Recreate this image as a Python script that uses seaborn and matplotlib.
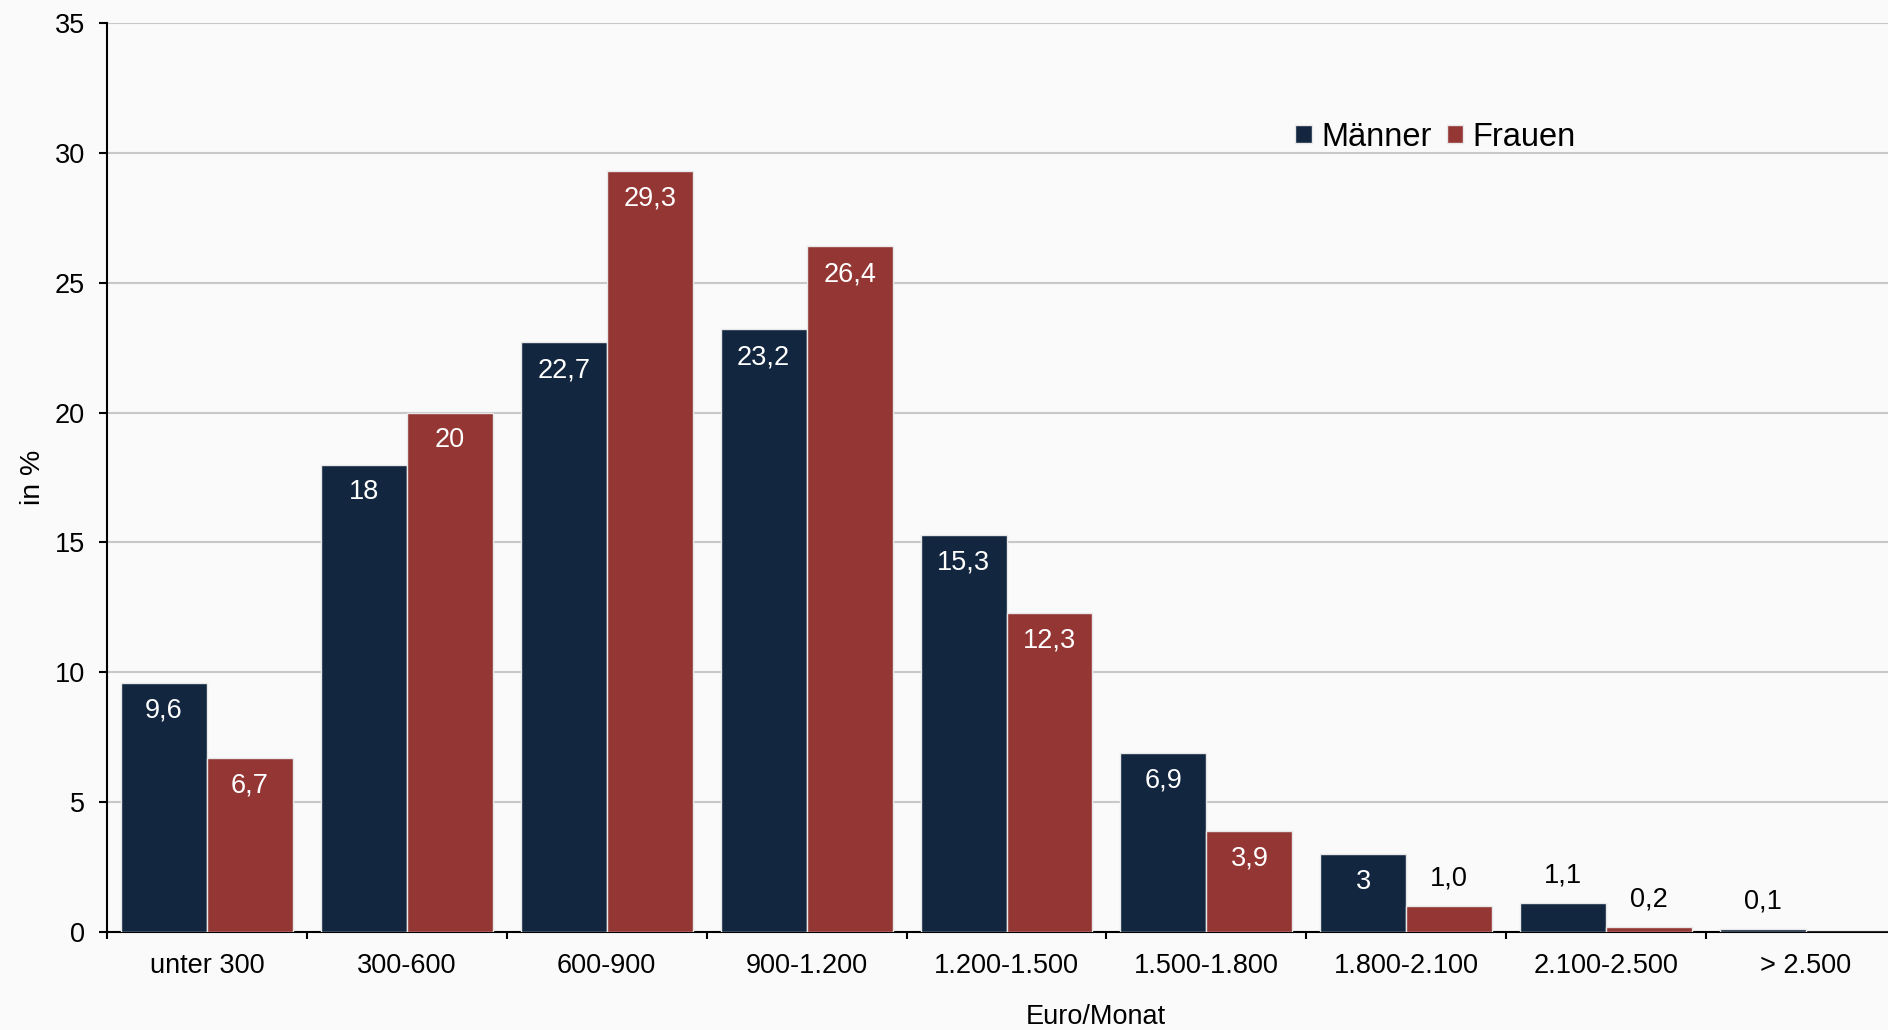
import pandas as pd
import seaborn as sns
import matplotlib.pyplot as plt
from matplotlib.ticker import FixedLocator

# Daten
kategorien = ['unter 300', '300-600', '600-900', '900-1.200', '1.200-1.500',
              '1.500-1.800', '1.800-2.100', '2.100-2.500', '> 2.500']
maenner = [9.6, 18, 22.7, 23.2, 15.3, 6.9, 3, 1.1, 0.1]
frauen = [6.7, 20, 29.3, 26.4, 12.3, 3.9, 1.0, 0.2, 0]
maenner_labels = ['9,6', '18', '22,7', '23,2', '15,3', '6,9', '3', '1,1', '0,1']
frauen_labels = ['6,7', '20', '29,3', '26,4', '12,3', '3,9', '1,0', '0,2', '']
yticks = [0, 5, 10, 15, 20, 25, 30, 35]

df = pd.DataFrame({
    'kategorie': kategorien * 2,
    'wert': maenner + frauen,
    'geschlecht': ['Männer'] * len(kategorien) + ['Frauen'] * len(kategorien),
})

sns.set_style('white')
plt.rcParams['font.family'] = ['Liberation Sans', 'DejaVu Sans']
plt.rcParams.update({'text.color': 'black', 'axes.labelcolor': 'black',
                     'xtick.color': 'black', 'ytick.color': 'black'})

bg = '#fafafa'
fig = plt.figure(figsize=(18.88, 10.30), dpi=100, facecolor=bg)
ax = fig.add_axes([107 / 1888, 98 / 1030, 1799 / 1888, 909 / 1030])
ax.set_facecolor(bg)

sns.barplot(data=df, x='kategorie', y='wert', hue='geschlecht',
            palette={'Männer': '#12263f', 'Frauen': '#943634'},
            width=0.86, gap=0, edgecolor='#e8e8e8', linewidth=1,
            saturation=1, ax=ax, legend=True, zorder=3)

# Beschriftungen
for cont, labs in zip(ax.containers, [maenner_labels, frauen_labels]):
    for bar, lab in zip(cont, labs):
        if not lab:
            continue
        h = bar.get_height()
        x = bar.get_x() + bar.get_width() / 2
        if h > 2:
            ax.annotate(lab, (x, h), xytext=(0, -20), textcoords='offset points',
                        ha='center', va='center', color='white', fontsize=19.5, zorder=4)
        else:
            ax.annotate(lab, (x, h), xytext=(0, 20), textcoords='offset points',
                        ha='center', va='center', color='black', fontsize=19.5, zorder=4)

ax.set_ylim(0, 35)
ax.set_xlim(-0.5, len(kategorien) - 0.5)
ax.set_yticks(yticks)
ax.yaxis.grid(True, color='#c8c8c8', linewidth=1.5, zorder=0)
ax.set_axisbelow(True)

for s in ['top', 'right']:
    ax.spines[s].set_visible(False)
for s in ['left', 'bottom']:
    ax.spines[s].set_color('black')
    ax.spines[s].set_linewidth(1.5)

ax.tick_params(axis='y', which='major', length=6, width=1.5, direction='out',
               left=True, pad=10, labelsize=19.5)
ax.tick_params(axis='x', which='major', length=0, pad=15, labelsize=19.5)
ax.xaxis.set_minor_locator(FixedLocator([i - 0.5 for i in range(len(kategorien) + 1)]))
ax.tick_params(axis='x', which='minor', length=5, width=1.5, direction='out', bottom=True)

ax.set_xlabel('Euro/Monat', fontsize=19.5)
ax.xaxis.set_label_coords((1096 - 107) / 1799, -0.079)
ax.set_ylabel('in %', fontsize=20.5)
ax.yaxis.set_label_coords(-0.034, 0.5)

handles, labels = ax.get_legend_handles_labels()
leg = ax.legend(handles, labels, loc='center left', ncol=2, frameon=False,
                bbox_to_anchor=(1266 / 1888, 1 - 137 / 1030), bbox_transform=fig.transFigure,
                fontsize=23.5, handlelength=0.5, handleheight=0.5, handletextpad=0.3,
                columnspacing=0.45)
for t in leg.get_texts():
    t.set_color('black')

fig.savefig('out.png', dpi=100, facecolor=bg)
